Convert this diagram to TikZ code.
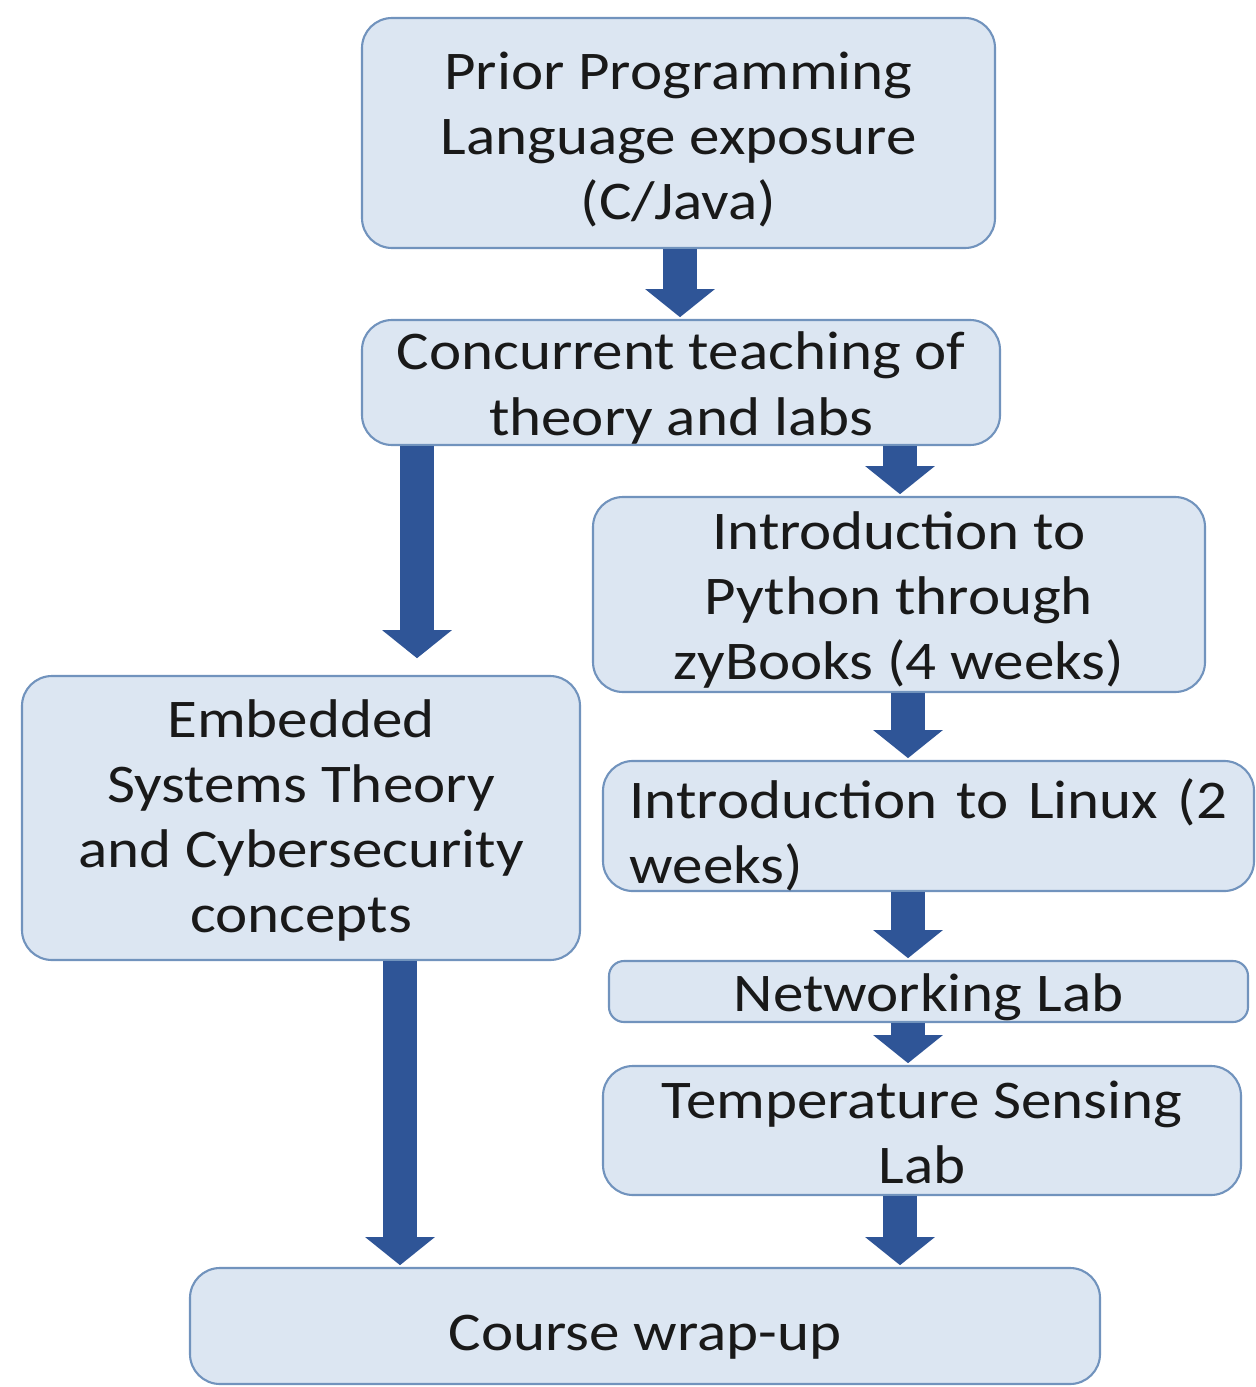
\documentclass[tikz,border=0pt]{standalone}
\usepackage{fontspec}
\setmainfont{Carlito}[FakeStretch=1.12]
\usepackage{xcolor}
\usetikzlibrary{arrows.meta,positioning}
\definecolor{boxfill}{HTML}{DCE6F2}
\definecolor{boxline}{HTML}{7193BD}
\definecolor{arrowblue}{HTML}{2F5597}

\begin{document}
\begin{tikzpicture}[
  box/.style={draw=boxline,line width=1.2pt,rounded corners=0.6cm,fill=boxfill,
              align=center,inner xsep=2mm,inner ysep=0pt,text=black!90,
              font=\fontsize{31pt}{37pt}\selectfont},
  lift/.style={execute at begin node={\rule{0pt}{1.15cm}}},
  flow/.style={-{Triangle[width=1.36cm,length=0.56cm]},line width=0.68cm,
               draw=arrowblue,shorten >=1pt}
]
\useasboundingbox (0,0) rectangle (25.12,-27.74);
\node[box,minimum width=12.66cm,minimum height=4.6cm,text height=3.61cm]
  (prior) at (13.57,-2.66) {Prior Programming\\Language exposure\\(C/Java)};
\node[box,minimum width=12.76cm,minimum height=2.5cm,text height=2.2cm,
      text depth=0.1cm] (conc) at (13.62,-7.65)
  {Concurrent teaching of\\theory and labs};
\node[box,minimum width=12.24cm,minimum height=3.9cm,text height=3.56cm]
  (py) at (17.98,-11.89) {Introduction to\\Python through\\zyBooks (4 weeks)};
\node[box,lift,minimum width=13.02cm,minimum height=2.48cm,text width=11.96cm,
      align=justify] (lin) at (18.57,-16.52)
  {Introduction to Linux (2 weeks)};
\node[box,rounded corners=0.3cm,minimum width=12.78cm,minimum height=1.22cm,
      text height=0.82cm,text depth=0.02cm]
  (net) at (18.57,-19.83) {Networking Lab};
\node[box,minimum width=12.76cm,minimum height=2.58cm,text height=2.12cm]
  (temp) at (18.44,-22.61) {Temperature Sensing\\Lab};
\node[box,minimum width=11.16cm,minimum height=5.68cm,text height=4.76cm]
  (emb) at (6.02,-16.36)
  {Embedded\\Systems Theory\\and Cybersecurity\\concepts};
\node[box,lift,minimum width=18.2cm,minimum height=2.32cm] (course) at (12.9,-26.52)
  {Course wrap-up};
% arrow columns
\coordinate (colp) at (13.6,0);
\coordinate (colr) at (18.16,0);
\coordinate (colc) at (18.0,0);
\coordinate (coll) at (8.34,0);
\coordinate (cole) at (8.0,0);
\coordinate (embin) at (8.34,-13.2);
\draw[flow] (prior.south -| colp) -- (conc.north -| colp);
\draw[flow] (conc.south -| colc) -- (py.north -| colc);
\draw[flow] (conc.south -| coll) -- (embin);
\draw[flow] (py.south -| colr) -- (lin.north -| colr);
\draw[flow] (lin.south -| colr) -- (net.north -| colr);
\draw[flow] (net.south -| colr) -- (temp.north -| colr);
\draw[flow] (temp.south -| colc) -- (course.north -| colc);
\draw[flow] (emb.south -| cole) -- (course.north -| cole);
\end{tikzpicture}
\end{document}
